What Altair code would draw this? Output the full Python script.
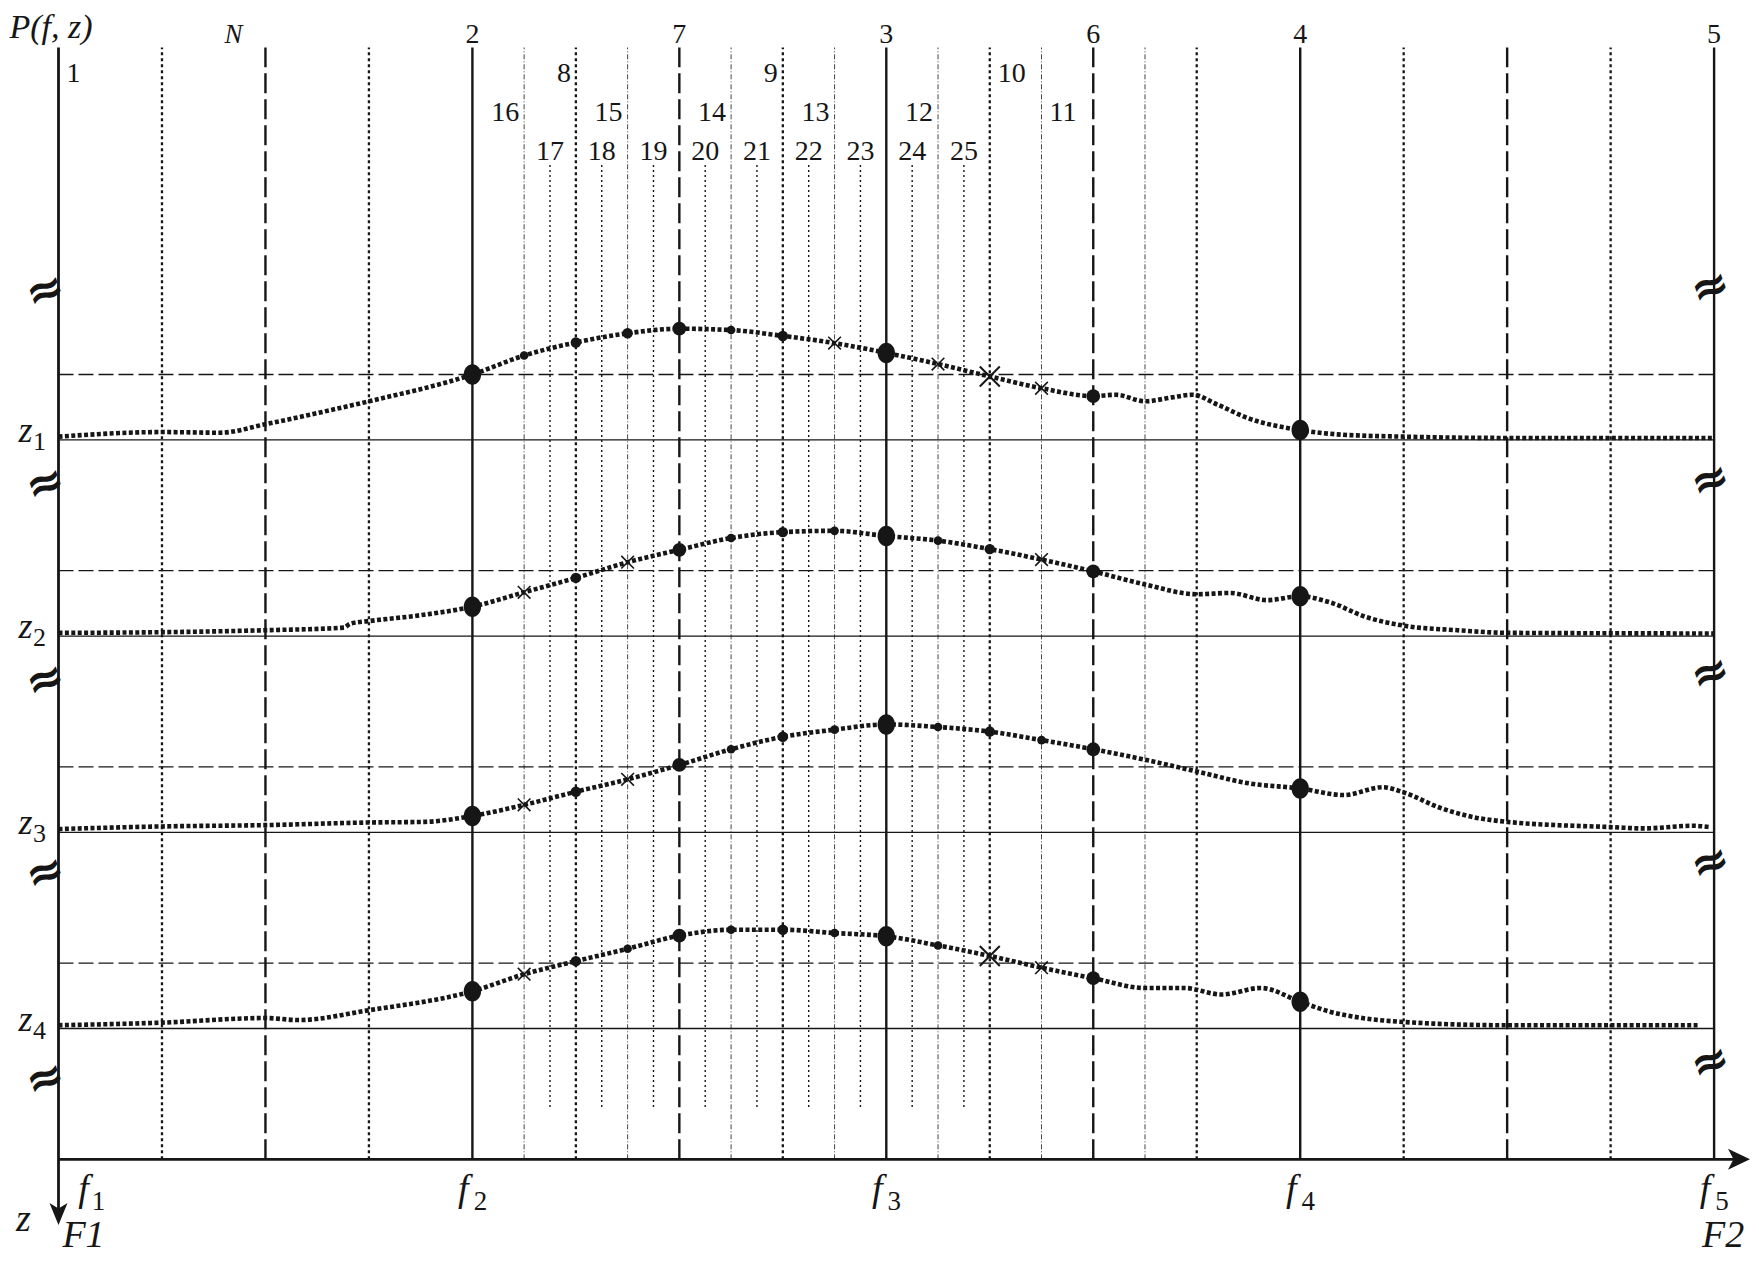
import altair as alt
import pandas as pd

# ---------------- data (f1..f5 -> 0..4 ; heights in units of the dashed offset) -------------
solid_f = [0, 1, 2, 3, 4]
longdash_f = [0.5, 1.5, 2.5, 3.5]
dotted_f = [0.25, 0.75, 1.25, 1.75, 2.25, 2.75, 3.25, 3.75]
dashdot_f = [1.125, 1.375, 1.625, 1.875, 2.125, 2.375, 2.625]
fine_f = [1.1875, 1.3125, 1.4375, 1.5625, 1.6875, 1.8125, 1.9375, 2.0625, 2.1875]

z_names = ["1", "2", "3", "4"]
z_levels = [11, 8, 5, 2]
f_names = ["1", "2", "3", "4", "5"]

curve1_f = [0.0, 0.25, 0.39, 0.5, 0.625, 0.75, 1.0, 1.125, 1.25, 1.375, 1.5, 1.625, 1.75, 1.875, 2.0,
            2.125, 2.25, 2.375, 2.5, 2.555, 2.625, 2.69, 2.74, 2.8, 2.875, 3.0, 3.1, 3.25, 3.5, 4.0]
curve1_h = [0.05, 0.12, 0.11, 0.24, 0.41, 0.59, 1.00, 1.29, 1.49, 1.63, 1.70, 1.68, 1.59, 1.48, 1.33,
            1.16, 0.97, 0.79, 0.67, 0.69, 0.59, 0.65, 0.69, 0.54, 0.33, 0.15, 0.08, 0.05, 0.03, 0.03]

curve2_f = [0.0, 0.25, 0.5, 0.69, 0.705, 0.75, 0.875, 1.0, 1.125, 1.25, 1.375, 1.5, 1.625, 1.75, 1.875,
            2.0, 2.125, 2.25, 2.375, 2.5, 2.625, 2.75, 2.83, 2.92, 3.0, 3.07, 3.16, 3.25, 3.38, 3.5, 4.0]
curve2_h = [0.05, 0.06, 0.09, 0.13, 0.19, 0.23, 0.32, 0.45, 0.67, 0.89, 1.13, 1.32, 1.50, 1.59, 1.61,
            1.53, 1.46, 1.33, 1.17, 0.99, 0.79, 0.64, 0.66, 0.55, 0.61, 0.52, 0.29, 0.16, 0.09, 0.05, 0.04]

curve3_f = [0.0, 0.25, 0.5, 0.75, 0.885, 1.0, 1.125, 1.25, 1.375, 1.5, 1.625, 1.75, 1.875, 2.0, 2.125,
            2.25, 2.375, 2.5, 2.625, 2.75, 2.875, 3.0, 3.105, 3.2, 3.25, 3.34, 3.42, 3.5, 3.75, 3.83, 3.95, 3.99]
curve3_h = [0.05, 0.09, 0.11, 0.15, 0.16, 0.25, 0.42, 0.62, 0.81, 1.03, 1.27, 1.46, 1.57, 1.65, 1.61,
            1.54, 1.41, 1.27, 1.11, 0.93, 0.75, 0.67, 0.57, 0.69, 0.61, 0.37, 0.23, 0.16, 0.08, 0.06, 0.10, 0.08]

curve4_f = [0.0, 0.25, 0.5, 0.58, 0.75, 1.0, 1.125, 1.25, 1.375, 1.5, 1.625, 1.75, 1.875, 2.0, 2.125,
            2.25, 2.375, 2.5, 2.625, 2.72, 2.81, 2.905, 3.0, 3.07, 3.15, 3.25, 3.5, 3.96]
curve4_h = [0.05, 0.09, 0.16, 0.13, 0.28, 0.57, 0.83, 1.03, 1.22, 1.42, 1.51, 1.51, 1.46, 1.41, 1.27,
            1.11, 0.93, 0.77, 0.62, 0.62, 0.52, 0.62, 0.41, 0.26, 0.16, 0.10, 0.05, 0.05]

marker_f = [1.0, 1.125, 1.25, 1.375, 1.5, 1.625, 1.75, 1.875, 2.0, 2.125, 2.25, 2.375, 2.5, 3.0]
kinds1 = ["big", "small", "dot", "dot", "mid", "small", "dot", "x", "big", "x", "X", "x", "mid", "big"]
kinds2 = ["big", "x", "dot", "x", "mid", "small", "dot", "small", "big", "small", "dot", "x", "mid", "big"]
kinds3 = ["big", "x", "dot", "x", "mid", "small", "dot", "small", "big", "small", "dot", "small", "mid", "big"]
kinds4 = ["big", "x", "dot", "small", "mid", "small", "dot", "small", "big", "small", "X", "x", "mid", "big"]

# line numbers: text, line position, row, side
top_text = ["2", "7", "3", "6", "4", "5"]
top_f = [1, 1.5, 2, 2.5, 3, 4]
left_text = ["8", "9", "16", "15", "14", "13", "12"]
left_f = [1.25, 1.75, 1.125, 1.375, 1.625, 1.875, 2.125]
left_row = [1, 1, 2, 2, 2, 2, 2]
right_text = ["1", "10", "11"]
right_f = [0, 2.25, 2.375]
right_row = [1, 1, 2]
fine_text = ["17", "18", "19", "20", "21", "22", "23", "24", "25"]

break_left_y = [13.35, 10.4, 7.4, 4.45, 1.3]
break_right_y = [13.35, 10.4, 7.45, 4.55, 1.5]

# ---------------- helpers ----------------
BLACK = "#161616"
SERIF = "Liberation Serif, Times New Roman, Times, DejaVu Serif, serif"
TOP = 17
xs = alt.Scale(domain=[-0.12201, 4.08915], nice=False, zero=False)
ys = alt.Scale(domain=[-1.463, 17.604], nice=False, zero=False)


def X(field):
    return alt.X(field, type="quantitative", scale=xs, axis=None)


def Y(field):
    return alt.Y(field, type="quantitative", scale=ys, axis=None)


def vlines(fs, lo, hi, **kw):
    df = pd.DataFrame({"f": fs, "lo": lo, "hi": hi})
    return alt.Chart(df).mark_rule(color=BLACK, **kw).encode(
        x=X("f"), y=Y("lo"), y2=alt.Y2("hi"))


layers = []
layers.append(vlines(dashdot_f, 0, TOP, strokeWidth=0.8, strokeDash=[5, 2, 1, 2]))
layers.append(vlines(fine_f, 0.8, 15.23, strokeWidth=1.4, strokeDash=[2, 3]))
layers.append(vlines(dotted_f, 0, TOP, strokeWidth=2.3, strokeDash=[3, 3]))
layers.append(vlines(longdash_f, 0, TOP, strokeWidth=2.4, strokeDash=[20, 6]))
layers.append(vlines(solid_f[1:], 0, TOP, strokeWidth=2.4))
layers.append(vlines(solid_f[:1], -0.84, TOP, strokeWidth=2.8))

# horizontal level lines
df_lv = pd.DataFrame({"level": z_levels, "name": z_names})
df_lv["f0"] = solid_f[0]
df_lv["f1"] = solid_f[-1]
df_lv["dash"] = df_lv["level"] + 1
layers.append(alt.Chart(df_lv).mark_rule(color=BLACK, strokeWidth=1.3).encode(
    x=X("f0"), x2=alt.X2("f1"), y=Y("level")))
layers.append(alt.Chart(df_lv).mark_rule(color=BLACK, strokeWidth=1.3, strokeDash=[15, 5]).encode(
    x=X("f0"), x2=alt.X2("f1"), y=Y("dash")))

# x axis
df_ax = pd.DataFrame({"f0": [0], "f1": [4.06], "y": [0]})
layers.append(alt.Chart(df_ax).mark_rule(color=BLACK, strokeWidth=2.8).encode(
    x=X("f0"), x2=alt.X2("f1"), y=Y("y")))

# arrowheads (fixed shapes, no shape scale)
df_arr_r = pd.DataFrame({"f": [4.0601], "y": [0.0]})
df_arr_d = pd.DataFrame({"f": [0.0], "y": [-0.836]})
layers.append(alt.Chart(df_arr_r).mark_point(
    filled=True, opacity=1, color=BLACK, size=484,
    shape="M1,0 L-1,-0.95 L-0.5,0 L-1,0.95 Z").encode(x=X("f"), y=Y("y")))
layers.append(alt.Chart(df_arr_d).mark_point(
    filled=True, opacity=1, color=BLACK, size=484,
    shape="M0,1 L-0.82,-1 L0,-0.5 L0.82,-1 Z").encode(x=X("f"), y=Y("y")))

# curves
rows = []
for name, lvl, fs, hs in zip(z_names, z_levels, [curve1_f, curve2_f, curve3_f, curve4_f],
                             [curve1_h, curve2_h, curve3_h, curve4_h]):
    for f, h in zip(fs, hs):
        rows.append({"z": name, "f": f, "y": lvl + h})
df_c = pd.DataFrame(rows)
layers.append(alt.Chart(df_c).mark_line(color=BLACK, strokeWidth=4.6, strokeDash=[4, 2.4],
                                         interpolate="monotone").encode(
    x=X("f"), y=Y("y"), detail="z:N", order="f:Q"))

# markers
mrows = []
for name, lvl, fs, hs, ks in zip(z_names, z_levels, [curve1_f, curve2_f, curve3_f, curve4_f],
                                 [curve1_h, curve2_h, curve3_h, curve4_h],
                                 [kinds1, kinds2, kinds3, kinds4]):
    lookup = dict(zip(fs, hs))
    for f, k in zip(marker_f, ks):
        mrows.append({"z": name, "f": f, "y": lvl + lookup[f], "kind": k})
df_m = pd.DataFrame(mrows)

ELLIPSE = "M0,-1 A0.85,1 0 1,1 0,1 A0.85,1 0 1,1 0,-1 Z"
CROSS = "M-1,-1L1,1M-1,1L1,-1"
marker_styles = {
    "big": dict(filled=True, shape=ELLIPSE, size=420),
    "mid": dict(filled=True, shape="circle", size=190),
    "dot": dict(filled=True, shape="circle", size=110),
    "small": dict(filled=True, shape="circle", size=75),
    "x": dict(filled=False, shape=CROSS, size=160, strokeWidth=1.6),
    "X": dict(filled=False, shape=CROSS, size=400, strokeWidth=2.0),
}
for kind, st in marker_styles.items():
    sub = df_m[df_m["kind"] == kind]
    if len(sub) == 0:
        continue
    layers.append(alt.Chart(sub).mark_point(opacity=1, color=BLACK, **st).encode(
        x=X("f"), y=Y("y")))

# ---------------- texts ----------------
ROW_STEP = 0.596


def text_layer(df, align, dx, dy, size=28, style="normal", weight="normal", baseline="alphabetic"):
    kw = dict(font=SERIF, fontSize=size, align=align, baseline=baseline, dx=dx, dy=dy,
              color=BLACK, fontStyle=style, fontWeight=weight)
    return alt.Chart(df).mark_text(**kw).encode(x=X("f"), y=Y("y"), text="t:N")


df_top = pd.DataFrame({"t": top_text, "f": top_f})
df_top["y"] = TOP
layers.append(text_layer(df_top, "center", 0, -4.5))
df_N = pd.DataFrame({"t": ["N"], "f": [longdash_f[0]], "y": [TOP]})
layers.append(text_layer(df_N, "center", -32, -4.5, style="italic", size=27))
df_left = pd.DataFrame({"t": left_text, "f": left_f, "row": left_row})
df_left["y"] = TOP - df_left["row"] * ROW_STEP
layers.append(text_layer(df_left, "right", -5, -4.5))
df_right = pd.DataFrame({"t": right_text, "f": right_f, "row": right_row})
df_right["y"] = TOP - df_right["row"] * ROW_STEP
layers.append(text_layer(df_right, "left", 8, -4.5))
df_fine = pd.DataFrame({"t": fine_text, "f": fine_f})
df_fine["y"] = TOP - 3 * ROW_STEP
layers.append(text_layer(df_fine, "center", 0, -4.5))

# P(f, z)
df_P = pd.DataFrame({"t": ["P(f, z)"], "f": [0], "y": [TOP]})
layers.append(text_layer(df_P, "left", -49, -10, size=34, style="italic"))

# f labels
df_f = pd.DataFrame({"t": ["f"] * 5, "s": f_names, "f": solid_f, "y": 0})
layers.append(text_layer(df_f.iloc[:1], "center", 25, 42, size=38, style="italic"))
layers.append(text_layer(df_f.iloc[1:], "center", -9, 42, size=38, style="italic"))
df_fs = df_f.assign(t=df_f["s"])
layers.append(text_layer(df_fs.iloc[:1], "center", 40, 51, size=27))
layers.append(text_layer(df_fs.iloc[1:], "center", 8, 51, size=27))

# axis names
df_zax = pd.DataFrame({"t": ["z"], "f": [0], "y": [0]})
layers.append(text_layer(df_zax, "center", -35, 72, size=38, style="italic"))
df_F = pd.DataFrame({"t": ["F1", "F2"], "f": [0, 4], "y": [0, 0]})
layers.append(text_layer(df_F.iloc[:1], "center", 25, 88, size=38, style="italic"))
layers.append(text_layer(df_F.iloc[1:], "center", 9, 88, size=38, style="italic"))

# z level labels
df_zl = pd.DataFrame({"t": ["z"] * 4, "s": z_names, "f": 0, "y": z_levels})
layers.append(text_layer(df_zl, "center", -33, 2, size=36, style="italic"))
layers.append(text_layer(df_zl.assign(t=df_zl["s"]), "center", -19, 10, size=26))

# axis break marks
df_bl = pd.DataFrame({"t": "\u2248", "f": 0, "y": break_left_y})
df_br = pd.DataFrame({"t": "\u2248", "f": 4, "y": break_right_y})
for df_b, dx in [(df_bl, -14), (df_br, -4)]:
    layers.append(alt.Chart(df_b).mark_text(font="DejaVu Sans", fontSize=46, fontWeight="bold",
                                            align="center", baseline="middle", dx=dx, angle=340,
                                            color=BLACK).encode(x=X("f"), y=Y("y"), text="t:N"))

chart = alt.layer(*layers).properties(
    width=1743, height=1247, padding=0,
    autosize=alt.AutoSizeParams(type="none"),
    background="white",
).configure_view(stroke=None)

chart.save("out.html", embed_options={"renderer": "svg", "actions": False})
